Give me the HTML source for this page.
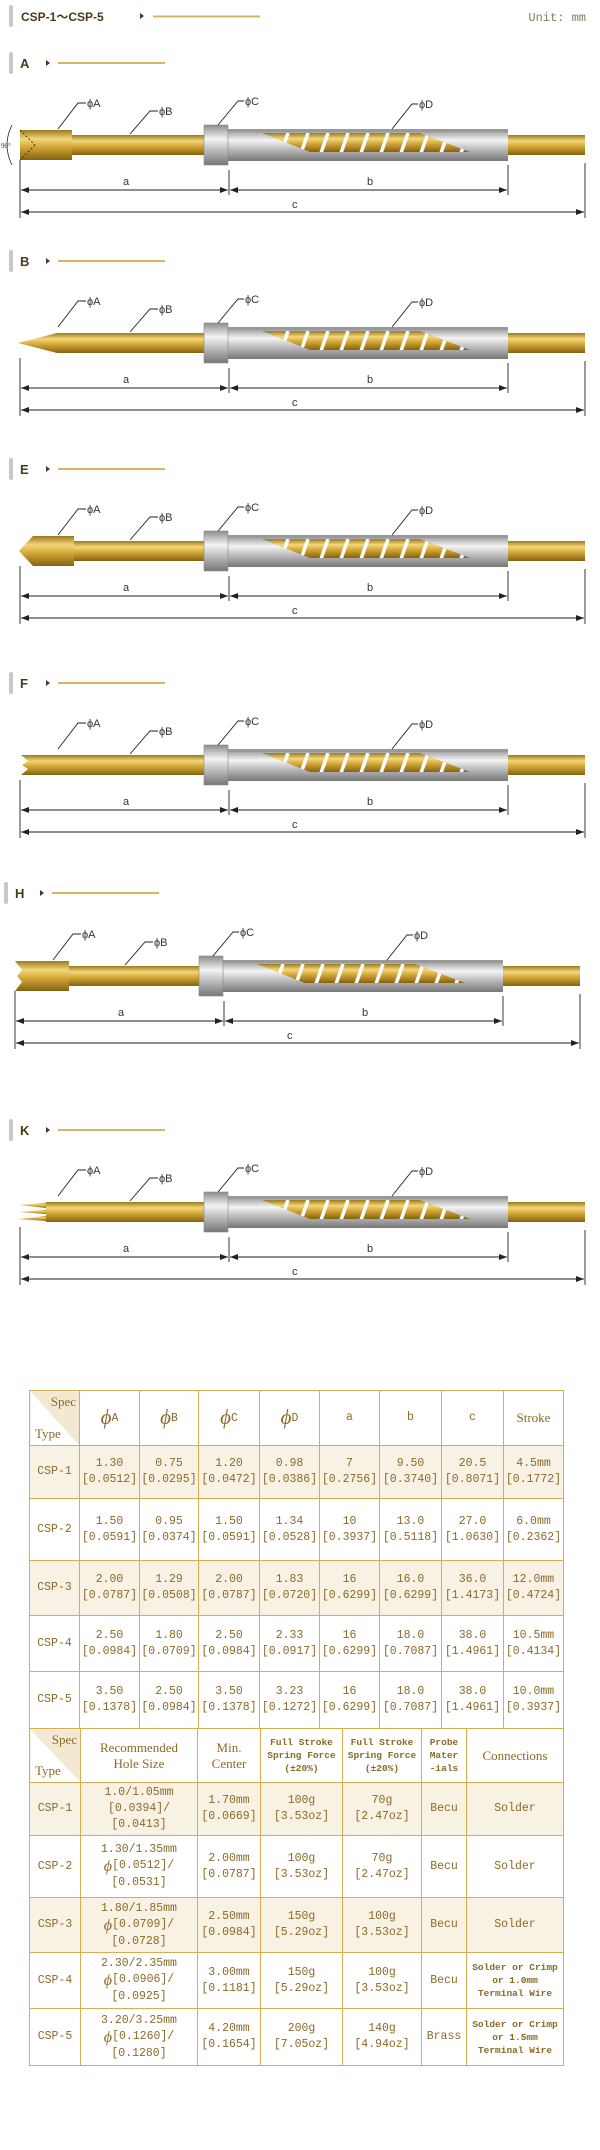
<!DOCTYPE html>
<html><head><meta charset="utf-8">
<style>
html,body{margin:0;padding:0;background:#fff;}
body{width:600px;height:2150px;position:relative;overflow:hidden;font-family:"Liberation Sans",sans-serif;}
svg{position:absolute;left:0;top:0;}
table{position:absolute;border-collapse:collapse;table-layout:fixed;left:29px;}
td{border:1.5px solid #d9ac52;text-align:center;vertical-align:middle;color:#8b6a28;font-family:"Liberation Mono","Noto Sans CJK SC",monospace;font-size:11.5px;line-height:16px;padding:0;overflow:hidden;}
tr.sh td{background:#f8f2e5;}
td.diag{background:linear-gradient(to top right,#fff 50%,#f3e8d2 50%);position:relative;font-family:"Liberation Serif",serif;font-size:13px;}
td.diag .s{position:absolute;right:3px;top:3px;}
td.diag .t{position:absolute;left:5px;bottom:3px;}
.phi{font-family:"Liberation Serif",serif;font-style:italic;font-size:21px;vertical-align:-3px;}
.sm{font-size:9.5px;line-height:13px;font-weight:bold;}
.hd{font-family:"Liberation Serif",serif;font-size:13px;}
</style></head><body>
<svg width="600" height="1300" viewBox="0 0 600 1300">
<defs>
<linearGradient id="gold" x1="0" y1="0" x2="0" y2="1">
<stop offset="0" stop-color="#9c7a1c"/><stop offset="0.3" stop-color="#f3d77a"/><stop offset="0.55" stop-color="#d6aa3a"/><stop offset="1" stop-color="#86620f"/></linearGradient>
<linearGradient id="silver" x1="0" y1="0" x2="0" y2="1">
<stop offset="0" stop-color="#8c8c8c"/><stop offset="0.35" stop-color="#f4f4f4"/><stop offset="0.65" stop-color="#b8b8b8"/><stop offset="1" stop-color="#777"/></linearGradient>
<clipPath id="cut"><polygon points="262,-12 420,-12 470,7 310,7"/></clipPath>
<marker id="ar" markerWidth="8" markerHeight="6" refX="8" refY="3" orient="auto-start-reverse" markerUnits="userSpaceOnUse"><path d="M0,0 L8,3 L0,6 z" fill="#222"/></marker>
<g id="body">
<rect x="228" y="-16" width="280" height="32" fill="url(#silver)"/>
<polygon points="262,-12 420,-12 470,7 310,7" fill="url(#gold)"/>
<g clip-path="url(#cut)" stroke="#fff" stroke-width="3.5">
<line x1="288" y1="-12" x2="281" y2="8"/><line x1="308" y1="-12" x2="301" y2="8"/><line x1="328" y1="-12" x2="321" y2="8"/><line x1="348" y1="-12" x2="341" y2="8"/><line x1="368" y1="-12" x2="361" y2="8"/><line x1="388" y1="-12" x2="381" y2="8"/><line x1="408" y1="-12" x2="401" y2="8"/><line x1="428" y1="-12" x2="421" y2="8"/><line x1="448" y1="-12" x2="441" y2="8"/><line x1="468" y1="-12" x2="461" y2="8"/>
</g>
<rect x="228" y="-16" width="280" height="3" fill="#999"/>
<rect x="204" y="-20" width="24" height="40" fill="url(#silver)" stroke="#888" stroke-width="0.6"/>
<rect x="508" y="-10" width="77" height="20" fill="url(#gold)"/>
<g stroke="#222" stroke-width="0.9" fill="none">
<line x1="20" y1="15" x2="20" y2="73"/><line x1="229" y1="25" x2="229" y2="50"/><line x1="508" y1="20" x2="508" y2="50"/><line x1="585" y1="18" x2="585" y2="73"/>
<line x1="21" y1="45" x2="228" y2="45" marker-start="url(#ar)" marker-end="url(#ar)"/>
<line x1="230" y1="45" x2="507" y2="45" marker-start="url(#ar)" marker-end="url(#ar)"/>
<line x1="21" y1="67" x2="584" y2="67" marker-start="url(#ar)" marker-end="url(#ar)"/>
<polyline points="58,-16 78,-42 86,-42"/><polyline points="130,-11 150,-34 158,-34"/><polyline points="218,-20 238,-44 244,-44"/><polyline points="392,-16 412,-41 418,-41"/>
</g>
<g font-family="Liberation Sans,sans-serif" font-size="11" fill="#333">
<text x="87" y="-38">ϕA</text><text x="159" y="-30">ϕB</text><text x="245" y="-40">ϕC</text><text x="419" y="-37">ϕD</text>
<text x="123" y="40">a</text><text x="367" y="40">b</text><text x="292" y="63">c</text>
</g>
</g>
</defs>

<!-- header -->
<rect x="9" y="5" width="4" height="22" rx="2" fill="#c8c8c8"/>
<text x="21" y="21" font-size="12" font-weight="bold" fill="#4a3a18" font-family="Liberation Sans,Noto Sans CJK SC,sans-serif">CSP-1～CSP-5</text>
<polygon points="140,13 144,16 140,19" fill="#4a3a18"/>
<rect x="153" y="15.5" width="107" height="2" fill="#d9b562"/>
<text x="586" y="21" text-anchor="end" font-size="12" fill="#8a7a5a" font-family="Liberation Mono,monospace">Unit: mm</text>

<!-- section titles -->
<g font-size="13" font-weight="bold" fill="#4a3a18">
<g transform="translate(0,63)"><rect x="9" y="-11" width="4" height="22" rx="2" fill="#c8c8c8"/><text x="20" y="5">A</text><polygon points="46,-3 50,0 46,3" fill="#4a3a18"/><rect x="58" y="-1" width="107" height="2" fill="#d9b562"/></g>
<g transform="translate(0,261)"><rect x="9" y="-11" width="4" height="22" rx="2" fill="#c8c8c8"/><text x="20" y="5">B</text><polygon points="46,-3 50,0 46,3" fill="#4a3a18"/><rect x="58" y="-1" width="107" height="2" fill="#d9b562"/></g>
<g transform="translate(0,469)"><rect x="9" y="-11" width="4" height="22" rx="2" fill="#c8c8c8"/><text x="20" y="5">E</text><polygon points="46,-3 50,0 46,3" fill="#4a3a18"/><rect x="58" y="-1" width="107" height="2" fill="#d9b562"/></g>
<g transform="translate(0,683)"><rect x="9" y="-11" width="4" height="22" rx="2" fill="#c8c8c8"/><text x="20" y="5">F</text><polygon points="46,-3 50,0 46,3" fill="#4a3a18"/><rect x="58" y="-1" width="107" height="2" fill="#d9b562"/></g>
<g transform="translate(0,893)"><rect x="4" y="-11" width="4" height="22" rx="2" fill="#c8c8c8"/><text x="15" y="5">H</text><polygon points="40,-3 44,0 40,3" fill="#4a3a18"/><rect x="52" y="-1" width="107" height="2" fill="#d9b562"/></g>
<g transform="translate(0,1130)"><rect x="9" y="-11" width="4" height="22" rx="2" fill="#c8c8c8"/><text x="20" y="5">K</text><polygon points="46,-3 50,0 46,3" fill="#4a3a18"/><rect x="58" y="-1" width="107" height="2" fill="#d9b562"/></g>
</g>

<!-- A -->
<g transform="translate(0,145)">
<rect x="72" y="-10" width="132" height="20" fill="url(#gold)"/>
<rect x="20" y="-15" width="52" height="30" fill="url(#gold)"/>
<use href="#body"/>
<g stroke="#222" stroke-width="0.8" fill="none"><line x1="20" y1="-15" x2="35" y2="0" stroke-dasharray="2,2"/><line x1="35" y1="0" x2="20" y2="15" stroke-dasharray="2,2"/><path d="M12,-20 Q2,0 12,20"/></g>
<text x="1" y="3" font-size="7" fill="#333" font-family="Liberation Serif,serif">90°</text>
</g>
<!-- B -->
<g transform="translate(0,343)">
<rect x="57" y="-10" width="147" height="20" fill="url(#gold)"/>
<polygon points="18,0 57,-10 57,10" fill="url(#gold)"/>
<use href="#body"/>
</g>
<!-- E -->
<g transform="translate(0,551)">
<rect x="74" y="-10" width="130" height="20" fill="url(#gold)"/>
<polygon points="19,0 33,-15 74,-15 74,15 33,15" fill="url(#gold)"/>
<use href="#body"/>
</g>
<!-- F -->
<g transform="translate(0,765)">
<polygon points="21,-10 204,-10 204,10 21,10 28,4 22,0 28,-4" fill="url(#gold)"/>
<use href="#body"/>
</g>
<!-- H -->
<g transform="translate(-5,976)">
<rect x="74" y="-10" width="130" height="20" fill="url(#gold)"/>
<polygon points="20,-15 74,-15 74,15 20,15 27,6 22,0 27,-6" fill="url(#gold)"/>
<use href="#body"/>
</g>
<!-- K -->
<g transform="translate(0,1212)">
<rect x="46" y="-10" width="158" height="20" fill="url(#gold)"/>
<polygon points="19,-7 46,-9 46,-4" fill="url(#gold)"/>
<polygon points="19,0 46,-2 46,2" fill="url(#gold)"/>
<polygon points="19,7 46,4 46,9" fill="url(#gold)"/>
<use href="#body"/>
</g>
</svg>

<table style="top:1390px;width:534px;">
<colgroup><col style="width:50px"><col style="width:60px"><col style="width:59px"><col style="width:61px"><col style="width:60px"><col style="width:60px"><col style="width:62px"><col style="width:62px"><col style="width:60px"></colgroup>
<tr style="height:55px"><td class="diag"><span class="s">Spec</span><span class="t">Type</span></td><td><span class="phi">ϕ</span>A</td><td><span class="phi">ϕ</span>B</td><td><span class="phi">ϕ</span>C</td><td><span class="phi">ϕ</span>D</td><td>a</td><td>b</td><td>c</td><td class="hd">Stroke</td></tr>
<tr class="sh" style="height:53px"><td>CSP-1</td><td>1.30<br>[0.0512]</td><td>0.75<br>[0.0295]</td><td>1.20<br>[0.0472]</td><td>0.98<br>[0.0386]</td><td>7<br>[0.2756]</td><td>9.50<br>[0.3740]</td><td>20.5<br>[0.8071]</td><td>4.5mm<br>[0.1772]</td></tr>
<tr style="height:62px"><td>CSP-2</td><td>1.50<br>[0.0591]</td><td>0.95<br>[0.0374]</td><td>1.50<br>[0.0591]</td><td>1.34<br>[0.0528]</td><td>10<br>[0.3937]</td><td>13.0<br>[0.5118]</td><td>27.0<br>[1.0630]</td><td>6.0mm<br>[0.2362]</td></tr>
<tr class="sh" style="height:55px"><td>CSP-3</td><td>2.00<br>[0.0787]</td><td>1.29<br>[0.0508]</td><td>2.00<br>[0.0787]</td><td>1.83<br>[0.0720]</td><td>16<br>[0.6299]</td><td>16.0<br>[0.6299]</td><td>36.0<br>[1.4173]</td><td>12.0mm<br>[0.4724]</td></tr>
<tr style="height:56px"><td>CSP-4</td><td>2.50<br>[0.0984]</td><td>1.80<br>[0.0709]</td><td>2.50<br>[0.0984]</td><td>2.33<br>[0.0917]</td><td>16<br>[0.6299]</td><td>18.0<br>[0.7087]</td><td>38.0<br>[1.4961]</td><td>10.5mm<br>[0.4134]</td></tr>
<tr style="height:57px"><td>CSP-5</td><td>3.50<br>[0.1378]</td><td>2.50<br>[0.0984]</td><td>3.50<br>[0.1378]</td><td>3.23<br>[0.1272]</td><td>16<br>[0.6299]</td><td>18.0<br>[0.7087]</td><td>38.0<br>[1.4961]</td><td>10.0mm<br>[0.3937]</td></tr>
</table>

<table style="top:1728px;width:534px;">
<colgroup><col style="width:51px"><col style="width:117px"><col style="width:63px"><col style="width:82px"><col style="width:79px"><col style="width:45px"><col style="width:97px"></colgroup>
<tr style="height:54px"><td class="diag"><span class="s">Spec</span><span class="t">Type</span></td><td class="hd">Recommended<br>Hole Size</td><td class="hd">Min.<br>Center</td><td class="sm">Full Stroke<br>Spring Force<br>(±20%)</td><td class="sm">Full Stroke<br>Spring Force<br>(±20%)</td><td class="sm">Probe<br>Mater<br>-ials</td><td class="hd">Connections</td></tr>
<tr class="sh" style="height:53px"><td>CSP-1</td><td>1.0/1.05mm<br>[0.0394]/<br>[0.0413]</td><td>1.70mm<br>[0.0669]</td><td>100g<br>[3.53oz]</td><td>70g<br>[2.47oz]</td><td>Becu</td><td>Solder</td></tr>
<tr style="height:62px"><td>CSP-2</td><td>1.30/1.35mm<br><span class="phi" style="font-size:16px">ϕ</span>[0.0512]/<br>[0.0531]</td><td>2.00mm<br>[0.0787]</td><td>100g<br>[3.53oz]</td><td>70g<br>[2.47oz]</td><td>Becu</td><td>Solder</td></tr>
<tr class="sh" style="height:55px"><td>CSP-3</td><td>1.80/1.85mm<br><span class="phi" style="font-size:16px">ϕ</span>[0.0709]/<br>[0.0728]</td><td>2.50mm<br>[0.0984]</td><td>150g<br>[5.29oz]</td><td>100g<br>[3.53oz]</td><td>Becu</td><td>Solder</td></tr>
<tr style="height:56px"><td>CSP-4</td><td>2.30/2.35mm<br><span class="phi" style="font-size:16px">ϕ</span>[0.0906]/<br>[0.0925]</td><td>3.00mm<br>[0.1181]</td><td>150g<br>[5.29oz]</td><td>100g<br>[3.53oz]</td><td>Becu</td><td class="sm">Solder or Crimp<br>or 1.0mm<br>Terminal Wire</td></tr>
<tr style="height:57px"><td>CSP-5</td><td>3.20/3.25mm<br><span class="phi" style="font-size:16px">ϕ</span>[0.1260]/<br>[0.1280]</td><td>4.20mm<br>[0.1654]</td><td>200g<br>[7.05oz]</td><td>140g<br>[4.94oz]</td><td>Brass</td><td class="sm">Solder or Crimp<br>or 1.5mm<br>Terminal Wire</td></tr>
</table>
</body></html>
